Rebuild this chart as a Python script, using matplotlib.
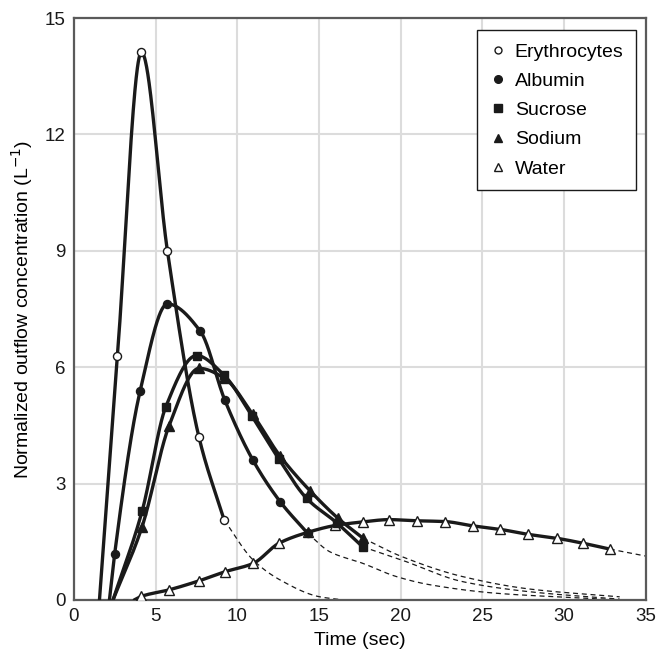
import numpy as np
import matplotlib
matplotlib.use("Agg")
import matplotlib.pyplot as plt
from matplotlib.lines import Line2D

plt.rcParams['font.family'] = ['Liberation Sans', 'DejaVu Sans']

# values (time in sec, concentration in L^-1)
ery_t = [1.57, 2.67, 4.14, 5.73, 7.65, 9.2]
ery_c = [0.0, 6.29, 14.12, 8.99, 4.21, 2.06]
ery_tail_t = [9.2, 10.97, 12.6, 15.05, 16.5]
ery_tail_c = [2.06, 1.03, 0.52, 0.08, 0.0]

alb_t = [2.18, 2.5, 4.06, 5.73, 7.75, 9.24, 10.95, 12.63, 14.3]
alb_c = [0.0, 1.19, 5.39, 7.63, 6.92, 5.15, 3.61, 2.53, 1.72]
alb_tail_t = [14.3, 15.67, 17.7, 19.75, 21.8, 25.9, 30.0, 33.4]
alb_tail_c = [1.72, 1.24, 0.94, 0.6, 0.39, 0.17, 0.07, 0.0]

suc_t = [2.4, 4.18, 5.63, 7.51, 9.18, 10.9, 12.55, 14.24, 16.08, 17.67]
suc_c = [0.0, 2.29, 4.98, 6.3, 5.8, 4.74, 3.63, 2.62, 1.99, 1.37]
suc_tail_t = [17.67, 20.05, 23.8, 27.9, 33.4]
suc_tail_c = [1.37, 1.03, 0.47, 0.21, 0.02]

sod_t = [2.4, 4.18, 5.83, 7.67, 9.2, 10.95, 12.6, 14.44, 16.18, 17.7]
sod_c = [0.0, 1.89, 4.49, 5.97, 5.72, 4.78, 3.72, 2.82, 2.1, 1.59]
sod_tail_t = [17.7, 20.05, 23.8, 27.9, 33.4]
sod_tail_c = [1.59, 1.12, 0.6, 0.28, 0.08]

wat_t = [3.7, 4.12, 5.83, 7.65, 9.28, 10.97, 12.55, 14.3, 16.0, 17.67,
         19.3, 20.97, 22.7, 24.4, 26.07, 27.8, 29.54, 31.17, 32.8]
wat_c = [0.0, 0.09, 0.26, 0.49, 0.73, 0.94, 1.46, 1.74, 1.92, 2.01,
         2.07, 2.04, 2.02, 1.91, 1.82, 1.69, 1.59, 1.46, 1.31]
wat_tail_t = [32.8, 35.0]
wat_tail_c = [1.31, 1.13]


def pchip(x, y, n=300):
    # monotone cubic so the drawn curve passes through the read points
    x = np.asarray(x, float)
    y = np.asarray(y, float)
    h = np.diff(x)
    d = np.diff(y) / h
    m = np.zeros_like(y)
    if len(x) > 2:
        for k in range(1, len(x) - 1):
            if d[k - 1] * d[k] > 0:
                w1 = 2 * h[k] + h[k - 1]
                w2 = h[k] + 2 * h[k - 1]
                m[k] = (w1 + w2) / (w1 / d[k - 1] + w2 / d[k])
        m[0] = d[0]
        m[-1] = d[-1]
    else:
        m[:] = d[0]
    xs = np.linspace(x[0], x[-1], n)
    idx = np.clip(np.searchsorted(x, xs) - 1, 0, len(x) - 2)
    t = (xs - x[idx]) / h[idx]
    h00 = 2 * t**3 - 3 * t**2 + 1
    h10 = t**3 - 2 * t**2 + t
    h01 = -2 * t**3 + 3 * t**2
    h11 = t**3 - t**2
    ys = h00 * y[idx] + h10 * h[idx] * m[idx] + h01 * y[idx + 1] + h11 * h[idx] * m[idx + 1]
    return xs, ys


fig = plt.figure(figsize=(6.59, 6.56), dpi=100)
ax = fig.add_axes([0.112, 0.0855, 0.868, 0.887])

series = [
    (wat_t, wat_c, wat_tail_t, wat_tail_c, '^', 'white'),
    (ery_t, ery_c, ery_tail_t, ery_tail_c, 'o', 'white'),
    (alb_t, alb_c, alb_tail_t, alb_tail_c, 'o', '#1a1a1a'),
    (suc_t, suc_c, suc_tail_t, suc_tail_c, 's', '#1a1a1a'),
    (sod_t, sod_c, sod_tail_t, sod_tail_c, '^', '#1a1a1a'),
]

z = 3
for t, c, tt, tc, mk, fc in series:
    xs, ys = pchip(tt, tc)
    ax.plot(xs, ys, ls=(0, (4, 3)), lw=0.9, color='#1a1a1a', zorder=2)
    xs, ys = pchip(t, c)
    ax.plot(xs, ys, lw=2.4, color='#1a1a1a', zorder=z, solid_capstyle='round')
    ms = 6.5 if mk == '^' else 5.8
    # first point of each list is where the curve leaves the baseline (no marker)
    ax.plot(t[1:], c[1:], ls='none', marker=mk, ms=ms, mfc=fc,
            mec='#1a1a1a', mew=1.0, zorder=z + 0.5)
    z += 1

ax.set_xlim(0, 35)
ax.set_ylim(0, 15)
ax.set_xticks(range(0, 36, 5))
ax.set_yticks(range(0, 16, 3))
ax.grid(True, color='#dcdcdc', lw=1.5)
ax.set_axisbelow(True)
ax.tick_params(length=0, labelsize=13.5, pad=6, colors='#1a1a1a')
for s in ax.spines.values():
    s.set_color('#5a5a5a')
    s.set_linewidth(1.6)

ax.set_xlabel('Time (sec)', fontsize=14, labelpad=5)
ax.set_ylabel('Normalized outflow concentration (L$^{-1}$)', fontsize=14, labelpad=7)

handles = [
    Line2D([], [], ls='none', marker='o', ms=5, mfc='white', mec='#1a1a1a'),
    Line2D([], [], ls='none', marker='o', ms=5.5, mfc='#1a1a1a', mec='#1a1a1a'),
    Line2D([], [], ls='none', marker='s', ms=5.5, mfc='#1a1a1a', mec='#1a1a1a'),
    Line2D([], [], ls='none', marker='^', ms=6, mfc='#1a1a1a', mec='#1a1a1a'),
    Line2D([], [], ls='none', marker='^', ms=6, mfc='white', mec='#1a1a1a'),
]
labels = ['Erythrocytes', 'Albumin', 'Sucrose', 'Sodium', 'Water']
leg = ax.legend(handles, labels, loc='upper right', bbox_to_anchor=(0.983, 0.979),
                borderaxespad=0, fontsize=14, labelspacing=0.6, handlelength=0.9,
                handletextpad=0.4, borderpad=0.65, fancybox=False, framealpha=1)
leg.get_frame().set_edgecolor('#1a1a1a')
leg.get_frame().set_linewidth(1.0)

fig.savefig('out.png', dpi=100)
